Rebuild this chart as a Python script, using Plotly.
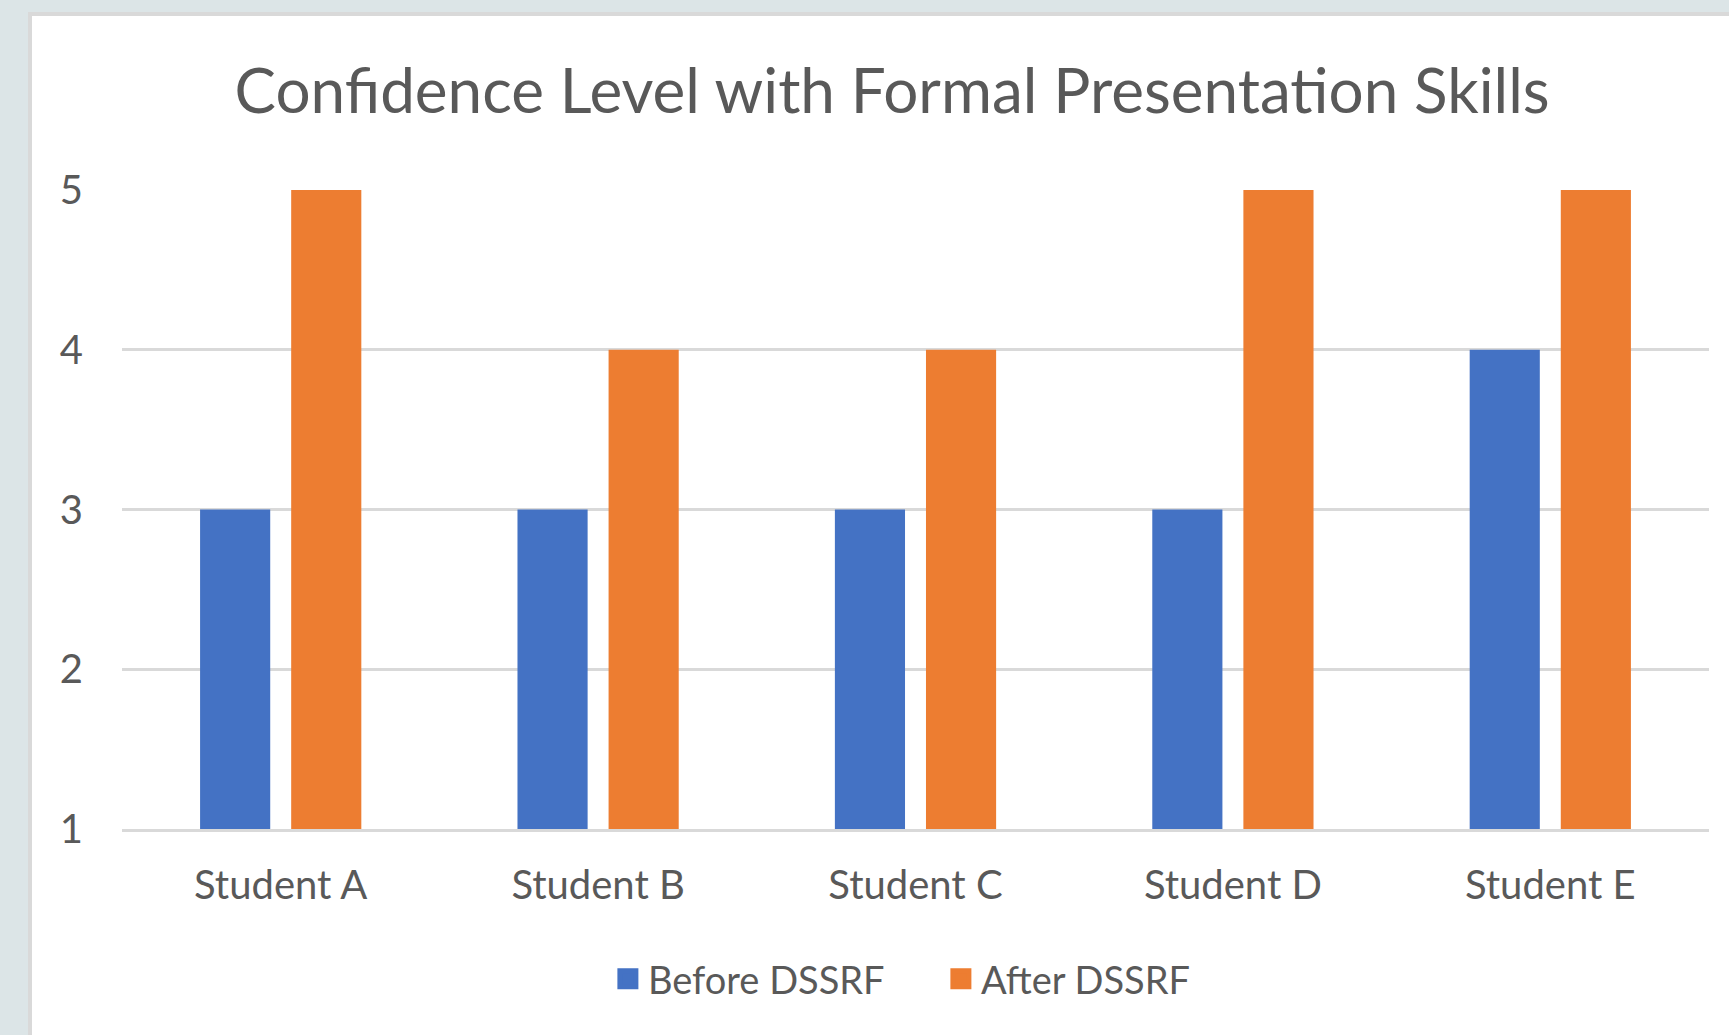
import plotly.graph_objects as go

categories = ["Student A", "Student B", "Student C", "Student D", "Student E"]
before_dssrf = [3, 3, 3, 3, 4]
after_dssrf = [5, 4, 4, 5, 5]
series_names = ["Before DSSRF", "After DSSRF"]
series_colors = ["#4472C4", "#ED7D31"]
y_ticks = [1, 2, 3, 4, 5]
title_text = "Confidence Level with Formal Presentation Skills"

W, H = 1729, 1035
ML, MR, MT, MB = 122, 20, 190, 206
TEXT = "#595959"
FONT = "Lato"


def px_x(p):
    return (p - ML) / (W - ML - MR)


def px_y(p):
    return (H - MB - p) / (H - MT - MB)


fig = go.Figure()
for name, vals, col in zip(series_names, [before_dssrf, after_dssrf], series_colors):
    fig.add_trace(go.Bar(x=categories, y=vals, name=name, marker_color=col,
                         marker_line_width=0, showlegend=False))
# legend entries
for name, col in zip(series_names, series_colors):
    fig.add_trace(go.Scatter(x=[None], y=[None], mode="markers", name=name,
                             marker=dict(symbol="square", size=24, color=col,
                                         line=dict(color=col, width=5))))

fig.update_layout(
    width=W, height=H,
    margin=dict(l=ML, r=MR, t=MT, b=MB, pad=0),
    paper_bgcolor="#DCE5E7",
    plot_bgcolor="white",
    font=dict(family=FONT, color=TEXT, size=40),
    title=dict(text=title_text, x=0.516, xanchor="center", y=1 - 91 / H, yanchor="middle",
               font=dict(family=FONT, size=62, color=TEXT)),
    barmode="group",
    bargap=0.426,
    bargroupgap=0.23,
    showlegend=True,
    legend=dict(orientation="h", x=0.516, xanchor="center", y=px_y(979), yanchor="middle",
                font=dict(family=FONT, size=38, color=TEXT), itemclick=False,
                entrywidth=288, entrywidthmode="pixels",
                bgcolor="rgba(0,0,0,0)"),
    shapes=[dict(type="rect", xref="paper", yref="paper",
                 x0=px_x(30), x1=px_x(1760), y0=px_y(1080), y1=px_y(14),
                 fillcolor="white", line=dict(color="#D9D9D9", width=4), layer="below")],
)
fig.update_xaxes(showgrid=False, showline=True, linecolor="#D9D9D9", linewidth=3,
                 ticks="", tickfont=dict(size=40, color=TEXT), ticklabelstandoff=19)
fig.update_yaxes(range=[1, 5], tickvals=y_ticks, showgrid=True, gridcolor="#D9D9D9",
                 gridwidth=3, zeroline=False, showline=False, ticks="",
                 tickfont=dict(size=40, color=TEXT), ticklabelstandoff=38)

fig.write_html("out.html", config={"displayModeBar": False},
               post_script="document.body.style.margin='0';")
